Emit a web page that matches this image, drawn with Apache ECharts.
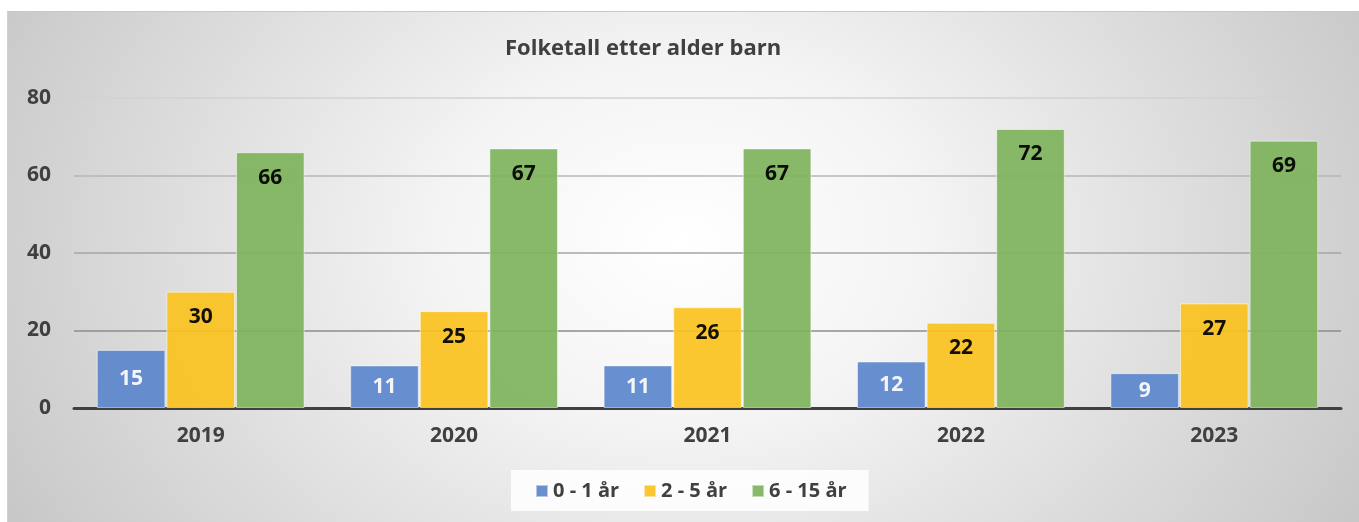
<!DOCTYPE html>
<html>
<head>
<meta charset="utf-8">
<script src="https://cdn.jsdelivr.net/npm/echarts@6/dist/echarts.min.js"></script>
<style>
  html, body { margin: 0; padding: 0; background: #fff; }
  #frame {
    position: absolute; left: 7px; top: 11px; width: 1352px; height: 511px;
    border-top: 1px solid #c8c8c8; border-left: 1px solid #d0d0d0;
    box-sizing: border-box;
    background: radial-gradient(ellipse 60% 120% at 50% 45%, #ffffff 0%, #f4f4f4 30%, #c4c4c4 100%);
  }
  #chart { position: absolute; left: 0; top: 0; width: 1352px; height: 511px; }
</style>
</head>
<body>
<div id="frame"><div id="chart"></div></div>
<script>
// data
var years = ['2019', '2020', '2021', '2022', '2023']
var age0to1 = [15, 11, 11, 12, 9]
var age2to5 = [30, 25, 26, 22, 27]
var age6to15 = [66, 67, 67, 72, 69]
var seriesNames = ['0 - 1 år', '2 - 5 år', '6 - 15 år']

var font = '"Open Sans", Lato, sans-serif'
var myChart = echarts.init(document.getElementById('chart'))

function barSeries (name, data, color, label) {
  return {
    name: name,
    type: 'bar',
    data: data,
    barGap: '1.5%',
    barCategoryGap: '18%',
    itemStyle: { color: color, opacity: 0.92, borderColor: 'rgba(255,255,255,0.55)', borderWidth: 1 },
    label: label
  }
}

myChart.setOption({
  backgroundColor: 'transparent',
  title: {
    text: 'Folketall etter alder barn',
    left: 492,
    top: 21,
    textStyle: { fontFamily: font, fontSize: 22, fontWeight: 'bold', color: '#404040' }
  },
  legend: {
    data: seriesNames,
    left: 503,
    top: 458,
    backgroundColor: 'rgba(255,255,255,0.85)',
    padding: [11, 22, 10, 24],
    itemWidth: 12,
    itemHeight: 12,
    itemGap: 24,
    icon: 'rect',
    textStyle: { fontFamily: font, fontSize: 20, fontWeight: 'bold', color: '#404040' }
  },
  grid: { left: 66, right: 19, top: 86, bottom: 115 },
  xAxis: {
    type: 'category',
    data: years,
    axisTick: { show: false },
    axisLine: { lineStyle: { color: '#404040', width: 3 } },
    axisLabel: { margin: 18, fontFamily: font, fontSize: 21, fontWeight: 'bold', color: '#404040' }
  },
  yAxis: {
    type: 'value',
    min: 0,
    max: 80,
    interval: 20,
    axisLine: { show: false },
    axisTick: { show: false },
    axisLabel: { margin: 23, fontFamily: font, fontSize: 21, fontWeight: 'bold', color: '#404040' },
    splitLine: { lineStyle: { color: ['#888888', '#8c8c8c', '#a4a4a4', '#b6b6b6', '#d2d2d2'], width: 1.5 } }
  },
  series: [
    barSeries(seriesNames[0], age0to1, '#5B86CB', {
      show: true, position: 'inside',
      fontFamily: font, fontSize: 21, fontWeight: 'bold', color: '#ffffff'
    }),
    barSeries(seriesNames[1], age2to5, '#FBC21E', {
      show: true, position: 'insideTop', distance: 15,
      fontFamily: font, fontSize: 21, fontWeight: 'bold', color: '#000000'
    }),
    barSeries(seriesNames[2], age6to15, '#7DB35C', {
      show: true, position: 'insideTop', distance: 15,
      fontFamily: font, fontSize: 21, fontWeight: 'bold', color: '#000000'
    })
  ]
})
</script>
</body>
</html>
